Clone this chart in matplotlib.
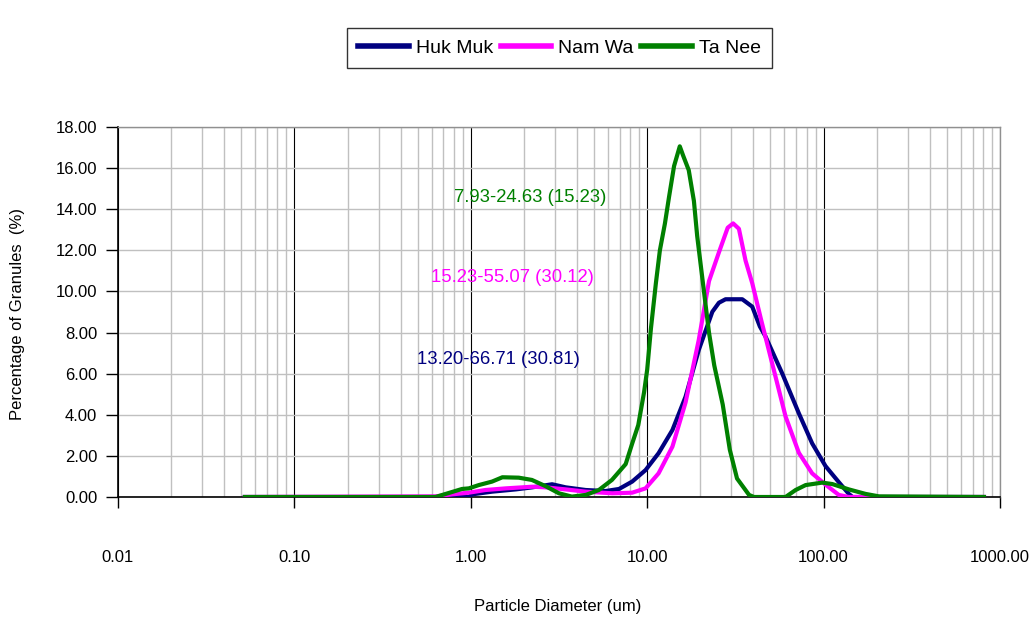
import matplotlib
matplotlib.use("Agg")
import matplotlib.pyplot as plt
from matplotlib.ticker import LogLocator, FixedLocator, NullFormatter, FuncFormatter

plt.rcParams["font.family"] = ["Liberation Sans", "DejaVu Sans"]

# Particle size distributions (diameter in um, percentage of granules)
size_huk_muk = [0.0524, 0.975, 1.02, 1.32, 1.80, 2.23, 2.89, 3.45, 4.48, 5.81, 6.92, 8.22,
                9.79, 11.6, 13.9, 16.5, 19.6, 23.4, 25.5, 27.8, 34.6, 39.4, 43.5, 46.9,
                58.2, 72.4, 86.1, 102.6, 122, 139, 146, 811]
pct_huk_muk = [0, 0, 0.13, 0.26, 0.37, 0.47, 0.62, 0.47, 0.34, 0.29, 0.39, 0.75,
               1.31, 2.13, 3.26, 4.88, 7.15, 9.01, 9.45, 9.62, 9.62, 9.26, 8.3, 7.8,
               6.02, 4.07, 2.61, 1.5, 0.72, 0.15, 0, 0]

size_nam_wa = [0.0524, 0.631, 0.785, 0.975, 1.21, 1.58, 2.23, 2.65, 3.45, 4.48, 6.34, 8.22,
               9.79, 11.6, 13.9, 16.5, 19.6, 22.4, 25.5, 28.6, 30.7, 33.1, 36.1, 39.4,
               44.3, 53.4, 60.9, 72.4, 86.1, 102.6, 122, 139, 811]
pct_nam_wa = [0, 0.03, 0.13, 0.21, 0.34, 0.42, 0.5, 0.47, 0.37, 0.26, 0.18, 0.21,
              0.42, 1.15, 2.45, 4.6, 7.64, 10.5, 11.9, 13.1, 13.31, 13.05, 11.5, 10.4,
              8.6, 5.85, 3.91, 2.15, 1.15, 0.6, 0.1, 0, 0]

size_ta_nee = [0.0524, 0.631, 0.891, 0.975, 1.11, 1.32, 1.51, 1.87, 2.22, 2.65, 3.16, 3.74,
               4.48, 5.32, 6.31, 7.55, 8.22, 8.9, 9.6, 10.0, 10.5, 11.2, 11.8, 12.6,
               13.3, 14.2, 15.3, 16.0, 17.2, 18.4, 19.2, 20.5, 22.4, 24.0, 26.8, 29.4,
               32.3, 37.8, 40.3, 60.9, 69.4, 79.1, 98.2, 112, 139, 173, 206, 811]
pct_ta_nee = [0, 0, 0.39, 0.42, 0.58, 0.75, 0.96, 0.94, 0.83, 0.53, 0.18, 0.02,
              0.1, 0.34, 0.83, 1.6, 2.6, 3.5, 5.1, 6.2, 8.2, 10.4, 12.0, 13.3,
              14.6, 16.1, 17.06, 16.6, 15.9, 14.4, 12.7, 10.7, 8.0, 6.4, 4.5, 2.3,
              0.9, 0.1, 0, 0, 0.34, 0.58, 0.7, 0.63, 0.37, 0.15, 0.03, 0]

series_names = ["Huk Muk", "Nam Wa", "Ta Nee"]
series_colors = ["#000080", "#FF00FF", "#008000"]
range_labels = ["13.20-66.71 (30.81)", "15.23-55.07 (30.12)", "7.93-24.63 (15.23)"]

x_ticks = [0.01, 0.1, 1, 10, 100, 1000]
y_ticks = [0, 2, 4, 6, 8, 10, 12, 14, 16, 18]

fig = plt.figure(figsize=(10.35, 6.19), dpi=100)
ax = fig.add_axes([118 / 1035, 1 - 497 / 619, 882 / 1035, 370 / 619])

sizes = [size_huk_muk, size_nam_wa, size_ta_nee]
pcts = [pct_huk_muk, pct_nam_wa, pct_ta_nee]
for s, p, name, c in zip(sizes, pcts, series_names, series_colors):
    ax.plot(s, p, color=c, lw=3, label=name, solid_joinstyle="round", zorder=3)

ax.set_xscale("log")
ax.set_xlim(0.01, 1000)
ax.set_ylim(0, 18)
ax.xaxis.set_major_locator(FixedLocator(x_ticks))
ax.xaxis.set_minor_locator(LogLocator(base=10, subs=range(2, 10), numticks=20))
ax.xaxis.set_minor_formatter(NullFormatter())
ax.xaxis.set_major_formatter(FuncFormatter(lambda v, _: f"{v:.2f}"))
ax.set_yticks(y_ticks)
ax.yaxis.set_major_formatter(FuncFormatter(lambda v, _: f"{v:.2f}"))

ax.grid(which="minor", axis="x", color="#c0c0c0", lw=1.0, zorder=0)
ax.grid(which="major", axis="x", color="#000000", lw=0.8, zorder=1)
ax.grid(which="major", axis="y", color="#c0c0c0", lw=1.0, zorder=0)
ax.set_axisbelow(True)

ax.tick_params(axis="x", which="major", direction="out", length=8, width=1,
               pad=30, labelsize=12, color="black")
ax.tick_params(axis="x", which="minor", length=0)
ax.tick_params(axis="y", direction="out", length=9, width=1, pad=6, labelsize=12)

for side in ("left", "bottom"):
    ax.spines[side].set_color("black")
    ax.spines[side].set_linewidth(1.2)
for side in ("top", "right"):
    ax.spines[side].set_color("#909090")
    ax.spines[side].set_linewidth(1.0)

# Range annotations: d10-d90 (mode) for each sample
label_pos = [(1.44, 6.71), (1.73, 10.7), (2.16, 14.59)]
for (lx, ly), txt, c in zip(label_pos, range_labels, series_colors):
    ax.text(lx, ly, txt, color=c, fontsize=13.3, ha="center", va="center", zorder=4)

fig.text(558 / 1035, 1 - 606 / 619, "Particle Diameter (um)", fontsize=12,
         ha="center", va="center")
fig.text(18 / 1035, 1 - 314 / 619, "Percentage of Granules  (%)", fontsize=12,
         rotation=90, ha="center", va="center")

leg = fig.legend(loc="center", bbox_to_anchor=(559.5 / 1035, 1 - 48 / 619), ncol=3,
                 fontsize=14, frameon=True, fancybox=False, shadow=False,
                 handlelength=2.6, handletextpad=0.35, columnspacing=0.4,
                 borderpad=0.6, borderaxespad=0)
leg.get_frame().set_edgecolor("black")
leg.get_frame().set_linewidth(1.0)
for line in leg.get_lines():
    line.set_linewidth(4)

fig.savefig("out.png", dpi=100)
